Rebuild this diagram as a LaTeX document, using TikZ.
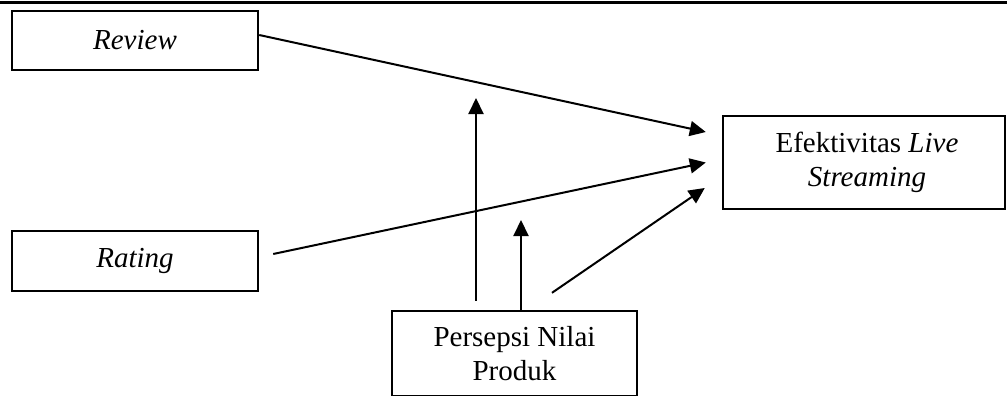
\documentclass[tikz,border=0pt]{standalone}
\usepackage{fontspec}
\setmainfont{Liberation Serif}
\usetikzlibrary{arrows.meta}
\tikzset{
  varbox/.style={draw, line width=2.4pt, rectangle, inner sep=0pt, align=center,
    font=\fontsize{29}{34}\selectfont},
  link/.style={line width=2pt, -{Triangle[length=16pt, width=15pt]}},
}
\begin{document}
\begin{tikzpicture}[x=1pt, y=-1pt]
  \useasboundingbox (0,0) rectangle (1007,396);
  \clip (0,0) rectangle (1007,396);
  % top rule
  \draw[line width=3pt] (0,2.5) -- (1007,2.5);

  % variable boxes
  \node[varbox, minimum width=246pt, minimum height=59pt] (review) at (135,40.5) {\textit{Review}};
  \node[varbox, minimum width=246pt, minimum height=60pt] (rating) at (135,261) {\textit{Rating}};
  \node[varbox, minimum width=282pt, minimum height=93pt] (eff) at (864,162.5)
    {\hspace*{6pt}Efektivitas \textit{Live}\\\hspace*{6pt}\textit{Streaming}};
  \node[varbox, minimum width=245pt, minimum height=85pt] (pnp) at (514.5,353.5)
    {Persepsi Nilai\\Produk};

  % connector end points
  \coordinate (tipA) at ([xshift=-16pt, yshift=30.5pt]eff.west);
  \coordinate (tipB) at ([xshift=-16pt]eff.west);
  \coordinate (tipC) at ([xshift=-17pt, yshift=-25.5pt]eff.west);
  \coordinate (upA) at (476,98);
  \coordinate (upB) at (521,220);

  % direct effects
  \draw[link] ([yshift=5.5pt]review.east) -- (tipA);
  \draw[link] ([xshift=14pt, yshift=7pt]rating.east) -- (tipB);
  \draw[link] ([xshift=37.5pt, yshift=17pt]pnp.north) -- (tipC);

  % moderation arrows
  \draw[link] (pnp.north -| upA) ++(0,-9) -- (upA);
  \draw[link] (pnp.north -| upB) -- (upB);
\end{tikzpicture}
\end{document}
